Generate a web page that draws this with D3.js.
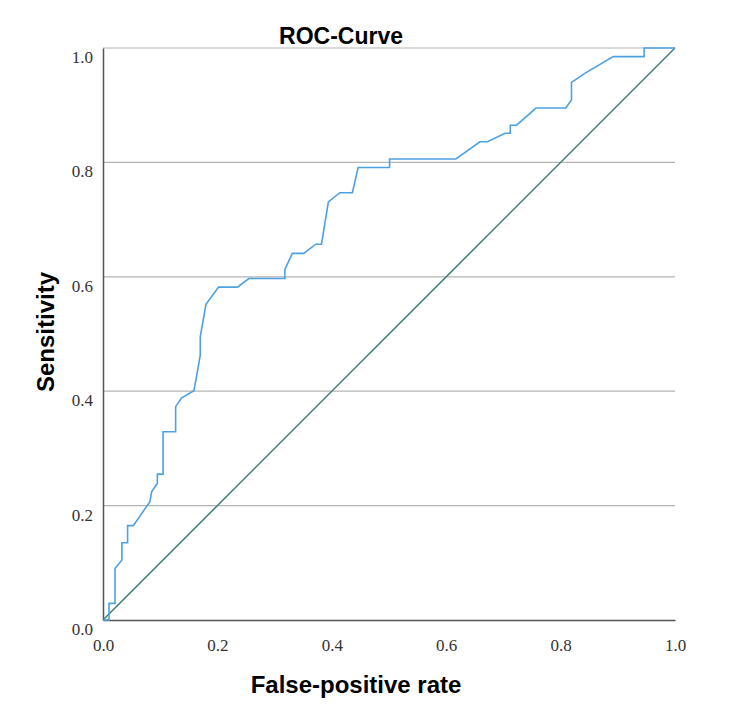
<!DOCTYPE html>
<html>
<head>
<meta charset="utf-8">
<script src="https://cdn.jsdelivr.net/npm/d3@7"></script>
<style>
  body { margin: 0; background: #fff; }
  .tick text { font-family: 'Liberation Serif', 'Times New Roman', serif; fill: #333; }
</style>
</head>
<body>
<div id="d3"></div>
<script>
/* globals d3 */

// ROC curve points
let fpr = [0, 0.0105, 0.0105, 0.021, 0.021, 0.033, 0.033, 0.043, 0.043, 0.053, 0.082, 0.085, 0.095, 0.095,
  0.105, 0.105, 0.127, 0.127, 0.137, 0.159, 0.166, 0.170, 0.170, 0.180, 0.202, 0.235, 0.255, 0.318, 0.318,
  0.331, 0.351, 0.372, 0.382, 0.394, 0.414, 0.436, 0.446, 0.501, 0.501, 0.617, 0.659, 0.672, 0.703, 0.712,
  0.712, 0.723, 0.757, 0.809, 0.819, 0.819, 0.843, 0.892, 0.946, 0.946, 1.0]
let tpr = [0, 0, 0.029, 0.029, 0.090, 0.105, 0.135, 0.135, 0.165, 0.165, 0.207, 0.224, 0.239, 0.255,
  0.255, 0.329, 0.329, 0.373, 0.388, 0.401, 0.44, 0.463, 0.495, 0.552, 0.582, 0.582, 0.597, 0.597, 0.613,
  0.641, 0.641, 0.657, 0.657, 0.731, 0.747, 0.747, 0.791, 0.791, 0.806, 0.806, 0.836, 0.836, 0.851, 0.851,
  0.865, 0.865, 0.895, 0.895, 0.909, 0.940, 0.956, 0.985, 0.985, 1.0, 1.0]
let refLine = [0, 1]
let ticks = [0, 0.2, 0.4, 0.6, 0.8, 1.0]

let W = 750
let H = 710
let plotLeft = 103
let plotTop = 48
let size = 572

function main () {
  let svg = d3.select('#d3').append('svg').attr('width', W).attr('height', H)

  let x = d3.scaleLinear().domain([0, 1]).range([plotLeft, plotLeft + size])
  let y = d3.scaleLinear().domain([0, 1]).range([plotTop + size, plotTop])

  // horizontal grid
  svg.append('g')
    .selectAll('line')
    .data(ticks.slice(1))
    .enter().append('line')
      .attr('x1', x(0)).attr('x2', x(1))
      .attr('y1', (d) => y(d)).attr('y2', (d) => y(d))
      .attr('stroke', '#b4b4b4')
      .attr('stroke-width', 1.2)

  let xAxis = svg.append('g')
    .attr('transform', `translate(0,${y(0)})`)
    .call(d3.axisBottom(x).tickValues(ticks).tickFormat(d3.format('.1f')).tickSize(0).tickPadding(19))
  xAxis.select('.domain').attr('stroke', '#555').attr('stroke-width', 1.5)
  xAxis.selectAll('text').style('font-size', '17px')

  let yAxis = svg.append('g')
    .attr('transform', `translate(${x(0)},0)`)
    .call(d3.axisLeft(y).tickValues(ticks).tickFormat(d3.format('.1f')).tickSize(0).tickPadding(10))
  yAxis.select('.domain').attr('stroke', '#555').attr('stroke-width', 1.5)
  yAxis.selectAll('text').style('font-size', '17px').attr('dy', '0.85em')

  // reference diagonal
  svg.append('line')
    .attr('x1', x(refLine[0])).attr('y1', y(refLine[0]))
    .attr('x2', x(refLine[1])).attr('y2', y(refLine[1]))
    .attr('stroke', '#3f7d76')
    .attr('stroke-width', 1.5)

  let line = d3.line().x((d) => x(d[0])).y((d) => y(d[1]))
  svg.append('path')
    .datum(d3.zip(fpr, tpr))
    .attr('d', line)
    .attr('fill', 'none')
    .attr('stroke', '#4ca1e3')
    .attr('stroke-width', 1.6)

  let font = "'Liberation Sans', Arial, sans-serif"
  svg.append('text')
    .attr('x', 341).attr('y', 44)
    .attr('text-anchor', 'middle')
    .style('font-family', font).style('font-weight', 'bold').style('font-size', '23px')
    .text('ROC-Curve')

  svg.append('text')
    .attr('x', 356).attr('y', 693)
    .attr('text-anchor', 'middle')
    .style('font-family', font).style('font-weight', 'bold').style('font-size', '24px')
    .text('False-positive rate')

  svg.append('text')
    .attr('transform', 'translate(54,332) rotate(-90)')
    .attr('text-anchor', 'middle')
    .style('font-family', font).style('font-weight', 'bold').style('font-size', '24px')
    .text('Sensitivity')
}

main()
</script>
</body>
</html>
